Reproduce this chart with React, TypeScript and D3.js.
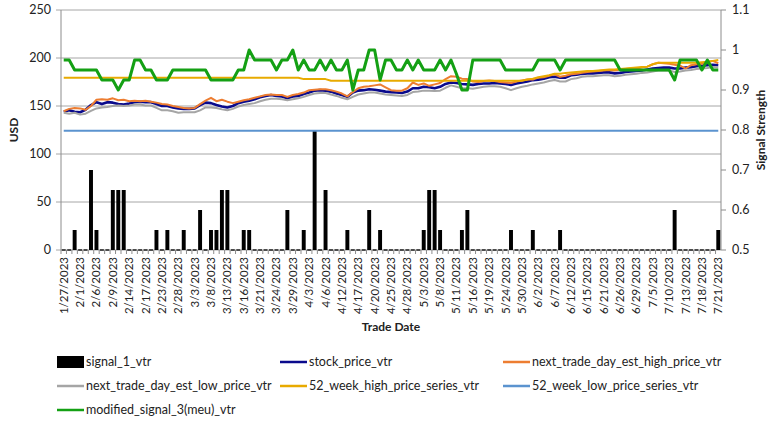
import { useEffect, useRef } from 'react';
import * as d3 from 'd3';

const tradeDates = [
    '1/27/2023', '1/30/2023', '1/31/2023',
    '2/1/2023', '2/2/2023', '2/3/2023', '2/6/2023', '2/7/2023', '2/8/2023', '2/9/2023', '2/10/2023', '2/13/2023', '2/14/2023', '2/15/2023', '2/16/2023', '2/17/2023', '2/21/2023', '2/22/2023', '2/23/2023', '2/24/2023', '2/27/2023', '2/28/2023',
    '3/1/2023', '3/2/2023', '3/3/2023', '3/6/2023', '3/7/2023', '3/8/2023', '3/9/2023', '3/10/2023', '3/13/2023', '3/14/2023', '3/15/2023', '3/16/2023', '3/17/2023', '3/20/2023', '3/21/2023', '3/22/2023', '3/23/2023', '3/24/2023', '3/27/2023', '3/28/2023', '3/29/2023', '3/30/2023', '3/31/2023',
    '4/3/2023', '4/4/2023', '4/5/2023', '4/6/2023', '4/10/2023', '4/11/2023', '4/12/2023', '4/13/2023', '4/14/2023', '4/17/2023', '4/18/2023', '4/19/2023', '4/20/2023', '4/21/2023', '4/24/2023', '4/25/2023', '4/26/2023', '4/27/2023', '4/28/2023',
    '5/1/2023', '5/2/2023', '5/3/2023', '5/4/2023', '5/5/2023', '5/8/2023', '5/9/2023', '5/10/2023', '5/11/2023', '5/12/2023', '5/15/2023', '5/16/2023', '5/17/2023', '5/18/2023', '5/19/2023', '5/22/2023', '5/23/2023', '5/24/2023', '5/25/2023', '5/26/2023', '5/30/2023', '5/31/2023',
    '6/1/2023', '6/2/2023', '6/5/2023', '6/6/2023', '6/7/2023', '6/8/2023', '6/9/2023', '6/12/2023', '6/13/2023', '6/14/2023', '6/15/2023', '6/16/2023', '6/20/2023', '6/21/2023', '6/22/2023', '6/23/2023', '6/26/2023', '6/27/2023', '6/28/2023', '6/29/2023', '6/30/2023',
    '7/3/2023', '7/5/2023', '7/6/2023', '7/7/2023', '7/10/2023', '7/11/2023', '7/12/2023', '7/13/2023', '7/14/2023', '7/17/2023', '7/18/2023', '7/19/2023', '7/20/2023', '7/21/2023',
];

// signal strength (right axis)
const signal1 = [
    0.5, 0.5, 0.55, 0.5, 0.5, 0.7, 0.55, 0.5, 0.5, 0.65,
    0.65, 0.65, 0.5, 0.5, 0.5, 0.5, 0.5, 0.55, 0.5, 0.55,
    0.5, 0.5, 0.55, 0.5, 0.5, 0.6, 0.5, 0.55, 0.55, 0.65,
    0.65, 0.5, 0.5, 0.55, 0.55, 0.5, 0.5, 0.5, 0.5, 0.5,
    0.5, 0.6, 0.5, 0.5, 0.55, 0.5, 0.8, 0.5, 0.65, 0.5,
    0.5, 0.5, 0.55, 0.5, 0.5, 0.5, 0.6, 0.5, 0.55, 0.5,
    0.5, 0.5, 0.5, 0.5, 0.5, 0.5, 0.55, 0.65, 0.65, 0.55,
    0.5, 0.5, 0.5, 0.55, 0.6, 0.5, 0.5, 0.5, 0.5, 0.5,
    0.5, 0.5, 0.55, 0.5, 0.5, 0.5, 0.55, 0.5, 0.5, 0.5,
    0.5, 0.55, 0.5, 0.5, 0.5, 0.5, 0.5, 0.5, 0.5, 0.5,
    0.5, 0.5, 0.5, 0.5, 0.5, 0.5, 0.5, 0.5, 0.5, 0.5,
    0.5, 0.5, 0.6, 0.5, 0.5, 0.5, 0.5, 0.5, 0.5, 0.5,
    0.55,
];

const modifiedSignal3 = [
    0.975, 0.975, 0.95, 0.95, 0.95, 0.95, 0.95, 0.925, 0.925, 0.925,
    0.9, 0.925, 0.925, 0.975, 0.975, 0.95, 0.95, 0.925, 0.925, 0.925,
    0.95, 0.95, 0.95, 0.95, 0.95, 0.95, 0.95, 0.925, 0.925, 0.925,
    0.925, 0.925, 0.95, 0.95, 1.0, 0.975, 0.975, 0.975, 0.975, 0.95,
    0.975, 0.975, 1.0, 0.95, 0.975, 0.95, 0.95, 0.975, 0.95, 0.975,
    0.95, 0.95, 0.975, 0.9, 0.95, 0.95, 1.0, 1.0, 0.925, 0.975,
    0.975, 0.95, 0.95, 0.975, 0.95, 0.975, 0.95, 0.95, 0.95, 0.975,
    0.95, 0.975, 0.94, 0.9, 0.9, 0.975, 0.975, 0.975, 0.975, 0.975,
    0.975, 0.95, 0.95, 0.95, 0.95, 0.95, 0.95, 0.975, 0.975, 0.975,
    0.975, 0.95, 0.975, 0.975, 0.975, 0.975, 0.975, 0.975, 0.975, 0.975,
    0.975, 0.975, 0.95, 0.95, 0.95, 0.95, 0.95, 0.95, 0.95, 0.95,
    0.95, 0.95, 0.925, 0.975, 0.975, 0.975, 0.975, 0.95, 0.975, 0.95,
    0.95,
];

// prices (left axis, USD)
const stockPrice = [
    144, 145.5, 144, 143.5, 146, 151, 154, 152, 154, 153.5,
    152, 151.5, 152.5, 154, 154.5, 154, 154, 152, 150, 150,
    148.5, 147.5, 147, 147, 147.5, 151, 153.5, 153, 151, 149.5,
    148.5, 150, 153, 154.5, 155.5, 157, 159, 160.5, 161.5, 160.5,
    160, 158, 160, 160.5, 162.5, 164, 166, 166.5, 166, 165,
    163, 161.5, 159.5, 164, 166, 166.5, 167.5, 167, 166, 165,
    164.5, 164, 163.5, 165, 168.5, 168.5, 170, 169.5, 168.5, 170,
    173, 174.5, 174, 173, 172.5, 172, 173, 173.5, 173.5, 174,
    173.5, 173, 172, 173.5, 174.5, 175.5, 177, 177.5, 178.5, 180,
    180.5, 179.5, 179.5, 182, 182.5, 183.5, 184, 184, 184.5, 185,
    185, 184, 184.5, 185.5, 186, 186.5, 187, 188, 189, 189.5,
    190, 190, 189, 189, 190, 190.5, 191.5, 192, 192.5, 193,
    192.5,
];

const estHighPrice = [
    144.5, 147, 148, 147.5, 146, 150, 156.5, 157, 156.5, 158,
    156, 156.5, 155, 155.5, 155, 155.5, 154.5, 153.5, 152, 151.5,
    150, 149, 148, 147.5, 148, 152, 155.5, 158.5, 155, 156.5,
    154.5, 153, 154.5, 156, 157, 158.5, 160, 161.5, 162, 161.5,
    161.5, 159.5, 161.5, 162.5, 164, 166.5, 167, 167.5, 167.5, 166.5,
    165, 163, 160, 164.5, 168.5, 170, 170.5, 171.5, 172.5, 169.5,
    166.5, 166, 166, 168.5, 174.5, 172, 173.5, 171, 172.5, 174,
    178, 181, 180.5, 178.5, 178, 175.5, 175, 176, 176.5, 176,
    175, 174.5, 174, 175.5, 176.5, 177.5, 177.5, 179.5, 180, 181.5,
    183, 180.5, 181.5, 183, 183.5, 184.5, 185.5, 186, 186.5, 187,
    187.5, 187, 188, 188.5, 189, 189, 190, 191, 193.5, 195,
    194.5, 194, 193, 192, 189, 192.5, 193.5, 194, 195.5, 197,
    194.5,
];

const estLowPrice = [
    143, 142, 143, 141, 142, 145, 147.5, 148.5, 149, 150,
    150.5, 150, 150.5, 151.5, 151.5, 150.5, 150.5, 148, 145.5, 145.5,
    144.5, 143, 143.5, 143.5, 143.5, 145.5, 148.5, 148.5, 148, 146.5,
    145.5, 147, 149.5, 151, 152, 153, 155, 156.5, 157.5, 157.5,
    157, 156, 157, 158, 159.5, 161.5, 163, 163.5, 163.5, 162,
    160.5, 158.5, 157, 159.5, 162, 163, 164, 164, 163, 162,
    161.5, 161, 160.5, 161.5, 164.5, 165, 166, 166, 165.5, 166,
    169, 171.5, 170, 168.5, 168.5, 168, 169, 170, 170.5, 170.5,
    170, 168.5, 166.5, 168.5, 170, 171, 172.5, 173.5, 174.5, 176,
    177, 175.5, 175.5, 178, 179, 180.5, 181, 181, 181.5, 182,
    182, 181, 181.5, 182.5, 183, 183.5, 184.5, 185, 186, 187,
    187, 187, 185.5, 186, 187, 187.5, 188.5, 189, 189.5, 190.5,
    190,
];

const high52Week = [
    179.5, 179.5, 179.5, 179.5, 179.5, 179.5, 179.5, 179.5, 179.5, 179.5,
    179.5, 179.5, 179.5, 179.5, 179.5, 179.5, 179.5, 179.5, 179.5, 179.5,
    179.5, 179.5, 179.5, 179.5, 179.5, 179.5, 179.5, 179.5, 179.5, 179.5,
    179.5, 179.5, 179.5, 179.5, 179.5, 179.5, 179.5, 179.5, 179.5, 179.5,
    179.5, 179.5, 179.5, 179.5, 178, 178, 178, 178, 178, 176.3,
    176.3, 176.3, 176.3, 176.3, 176.3, 176.3, 176.3, 176.3, 176.3, 176.3,
    176.3, 176.3, 176.3, 176.3, 176.3, 176.3, 176.3, 176.3, 176.3, 176.3,
    176.3, 176.3, 176.3, 176.3, 176.3, 176.3, 176.3, 176.3, 176.3, 176.3,
    176.3, 176.3, 176.3, 176.3, 176.3, 177.5, 178.5, 180, 181, 182,
    183.5, 183.5, 184.5, 185, 185.5, 186, 186.5, 186.5, 187, 187.5,
    188, 188, 188.5, 189, 189.5, 190, 190.5, 191, 193.5, 195,
    195, 195, 195, 195, 195, 195, 195, 195.5, 196, 197,
    198,
];

const low52Week = [
    124.3, 124.3, 124.3, 124.3, 124.3, 124.3, 124.3, 124.3, 124.3, 124.3,
    124.3, 124.3, 124.3, 124.3, 124.3, 124.3, 124.3, 124.3, 124.3, 124.3,
    124.3, 124.3, 124.3, 124.3, 124.3, 124.3, 124.3, 124.3, 124.3, 124.3,
    124.3, 124.3, 124.3, 124.3, 124.3, 124.3, 124.3, 124.3, 124.3, 124.3,
    124.3, 124.3, 124.3, 124.3, 124.3, 124.3, 124.3, 124.3, 124.3, 124.3,
    124.3, 124.3, 124.3, 124.3, 124.3, 124.3, 124.3, 124.3, 124.3, 124.3,
    124.3, 124.3, 124.3, 124.3, 124.3, 124.3, 124.3, 124.3, 124.3, 124.3,
    124.3, 124.3, 124.3, 124.3, 124.3, 124.3, 124.3, 124.3, 124.3, 124.3,
    124.3, 124.3, 124.3, 124.3, 124.3, 124.3, 124.3, 124.3, 124.3, 124.3,
    124.3, 124.3, 124.3, 124.3, 124.3, 124.3, 124.3, 124.3, 124.3, 124.3,
    124.3, 124.3, 124.3, 124.3, 124.3, 124.3, 124.3, 124.3, 124.3, 124.3,
    124.3, 124.3, 124.3, 124.3, 124.3, 124.3, 124.3, 124.3, 124.3, 124.3,
    124.3,
];

const usdTicks = [0, 50, 100, 150, 200, 250];
const strengthTicks = [0.5, 0.6, 0.7, 0.8, 0.9, 1, 1.1];

const FONT = 'Lato, "Open Sans", sans-serif';

type LineSeries = {
    name: string;
    values: number[];
    color: string;
    width: number;
    axis: 'usd' | 'signal';
};

export default function App() {
    const svgRef = useRef<SVGSVGElement>(null);

    useEffect(() => {
        if (!svgRef.current) return;

        const svg = d3.select(svgRef.current);
        svg.selectAll('*').remove();

        const left = 61, right = 721, top = 10, bottom = 250;

        const x = d3.scaleBand<string>().domain(tradeDates).range([left, right]).padding(0);
        const yUsd = d3.scaleLinear().domain([0, 250]).range([bottom, top]);
        const ySig = d3.scaleLinear().domain([0.5, 1.1]).range([bottom, top]);
        const bw = x.bandwidth();
        const cx = (d: string) => (x(d) ?? 0) + bw / 2;

        // gridlines
        svg.append('g')
            .selectAll('line')
            .data(usdTicks)
            .join('line')
            .attr('x1', left - 5)
            .attr('x2', right)
            .attr('y1', d => yUsd(d))
            .attr('y2', d => yUsd(d))
            .attr('stroke', '#a6a6a6')
            .attr('stroke-width', 1);

        // axis lines
        svg.append('line')
            .attr('x1', left).attr('x2', left).attr('y1', top).attr('y2', bottom)
            .attr('stroke', '#8c8c8c');
        svg.append('line')
            .attr('x1', right).attr('x2', right).attr('y1', top).attr('y2', bottom)
            .attr('stroke', '#8c8c8c');

        // right ticks
        svg.append('g')
            .selectAll('line')
            .data(strengthTicks)
            .join('line')
            .attr('x1', right)
            .attr('x2', right + 5)
            .attr('y1', d => ySig(d))
            .attr('y2', d => ySig(d))
            .attr('stroke', '#8c8c8c');

        // category ticks under the baseline
        svg.append('g')
            .selectAll('line')
            .data(tradeDates)
            .join('line')
            .attr('x1', d => x(d) ?? 0)
            .attr('x2', d => x(d) ?? 0)
            .attr('y1', bottom)
            .attr('y2', bottom + 4)
            .attr('stroke', '#8c8c8c');

        // signal_1 bars
        const barW = bw * 0.72;
        svg.append('g')
            .selectAll('rect')
            .data(tradeDates)
            .join('rect')
            .attr('x', d => cx(d) - barW / 2)
            .attr('width', barW)
            .attr('y', (d, i) => {
                const h = ySig(0.5) - ySig(signal1[i]);
                return h > 0 ? ySig(signal1[i]) : bottom - 1;
            })
            .attr('height', (d, i) => Math.max(ySig(0.5) - ySig(signal1[i]), 2))
            .attr('fill', (d, i) => (signal1[i] > 0.5 ? '#000' : '#4d4d4d'));

        const series: LineSeries[] = [
            { name: 'stock_price_vtr', values: stockPrice, color: '#0a0a8c', width: 2.6, axis: 'usd' },
            { name: 'next_trade_day_est_high_price_vtr', values: estHighPrice, color: '#ed7d31', width: 2, axis: 'usd' },
            { name: 'next_trade_day_est_low_price_vtr', values: estLowPrice, color: '#a5a5a5', width: 2, axis: 'usd' },
            { name: '52_week_high_price_series_vtr', values: high52Week, color: '#e8aa00', width: 2, axis: 'usd' },
            { name: '52_week_low_price_series_vtr', values: low52Week, color: '#5b93cf', width: 2, axis: 'usd' },
            { name: 'modified_signal_3(meu)_vtr', values: modifiedSignal3, color: '#14a014', width: 3, axis: 'signal' },
        ];

        series.forEach(s => {
            const yScale = s.axis === 'usd' ? yUsd : ySig;
            const line = d3.line<number>()
                .x((v, i) => cx(tradeDates[i]))
                .y(v => yScale(v));
            svg.append('path')
                .datum(s.values)
                .attr('d', line)
                .attr('fill', 'none')
                .attr('stroke', s.color)
                .attr('stroke-width', s.width)
                .attr('stroke-linejoin', 'round');
        });

        // left tick labels
        svg.append('g')
            .selectAll('text')
            .data(usdTicks)
            .join('text')
            .attr('x', left - 10)
            .attr('y', d => yUsd(d))
            .attr('dy', '0.35em')
            .attr('text-anchor', 'end')
            .attr('font-family', FONT)
            .attr('font-size', 12.5)
            .attr('fill', '#222')
            .text(d => d);

        // right tick labels
        svg.append('g')
            .selectAll('text')
            .data(strengthTicks)
            .join('text')
            .attr('x', right + 11)
            .attr('y', d => ySig(d))
            .attr('dy', '0.35em')
            .attr('font-family', FONT)
            .attr('font-size', 12.5)
            .attr('fill', '#222')
            .text(d => d3.format('~g')(d));

        // x labels, every third trading day
        svg.append('g')
            .selectAll('text')
            .data(tradeDates.filter((d, i) => i % 3 === 0))
            .join('text')
            .attr('transform', d => `translate(${cx(d)},${bottom + 7}) rotate(-90)`)
            .attr('text-anchor', 'end')
            .attr('dy', '0.35em')
            .attr('font-family', FONT)
            .attr('font-size', 11.5)
            .attr('fill', '#222')
            .text(d => d);

        // axis titles
        svg.append('text')
            .attr('transform', `translate(18,130) rotate(-90)`)
            .attr('text-anchor', 'middle')
            .attr('font-family', FONT)
            .attr('font-weight', 'bold')
            .attr('font-size', 12)
            .attr('fill', '#222')
            .text('USD');
        svg.append('text')
            .attr('transform', `translate(765,130) rotate(-90)`)
            .attr('text-anchor', 'middle')
            .attr('font-family', FONT)
            .attr('font-weight', 'bold')
            .attr('font-size', 12)
            .attr('fill', '#222')
            .text('Signal Strength');
        svg.append('text')
            .attr('x', 391)
            .attr('y', 331)
            .attr('text-anchor', 'middle')
            .attr('font-family', FONT)
            .attr('font-weight', 'bold')
            .attr('font-size', 12)
            .attr('fill', '#222')
            .text('Trade Date');

        // legend
        const legendItems = [
            { name: 'signal_1_vtr', color: '#000', bar: true },
            ...series.map(s => ({ name: s.name, color: s.color, bar: false })),
        ];
        const colX = [57, 280, 503];
        const rowY = [362, 386, 410];
        const legend = svg.append('g');
        legendItems.forEach((item, k) => {
            const gx = colX[k % 3];
            const gy = rowY[Math.floor(k / 3)];
            if (item.bar) {
                legend.append('rect')
                    .attr('x', gx).attr('y', gy - 6)
                    .attr('width', 27).attr('height', 12)
                    .attr('fill', item.color);
            } else {
                legend.append('line')
                    .attr('x1', gx).attr('x2', gx + 27)
                    .attr('y1', gy).attr('y2', gy)
                    .attr('stroke', item.color)
                    .attr('stroke-width', 2.5);
            }
            legend.append('text')
                .attr('x', gx + 29)
                .attr('y', gy)
                .attr('dy', '0.35em')
                .attr('font-family', FONT)
                .attr('font-size', 12.5)
                .attr('fill', '#222')
                .text(item.name);
        });
    }, []);

    return (
        <svg
            ref={svgRef}
            width={771}
            height={422}
            style={{ position: 'absolute', left: 0, top: 0, background: '#fff' }}
        />
    );
}
